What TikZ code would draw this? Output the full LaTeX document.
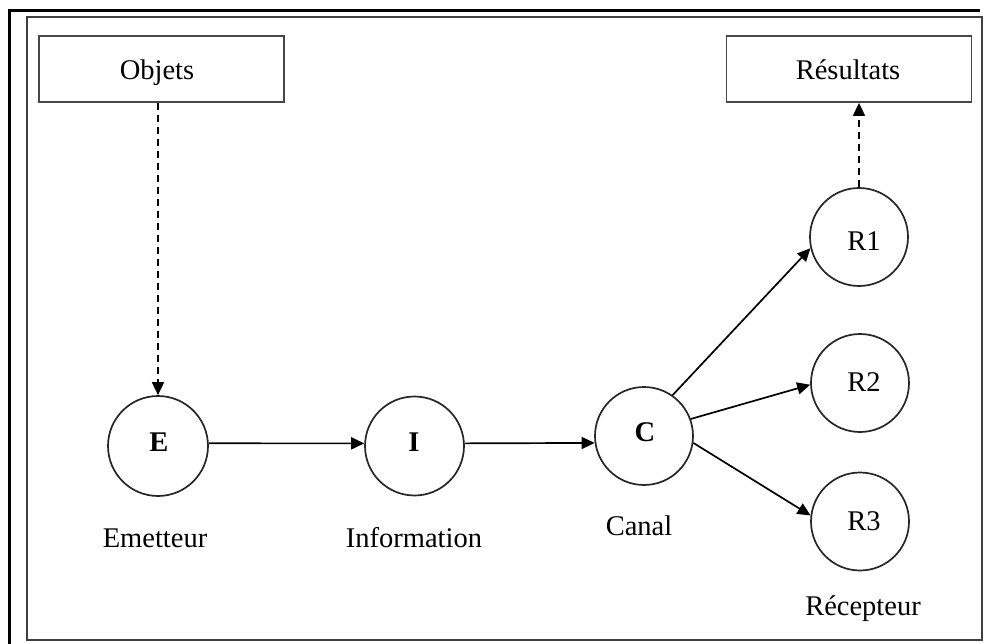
\documentclass[tikz,border=0pt]{standalone}
\usepackage{fontspec}
\setmainfont{Liberation Serif}
\usetikzlibrary{arrows.meta}
\begin{document}
\begin{tikzpicture}[x=1pt,y=-1pt,
  lbl/.style={font=\fontsize{28.5}{32}\selectfont, inner sep=0pt, anchor=base},
  blbl/.style={lbl, font=\fontsize{28.5}{32}\selectfont\bfseries},
  box/.style={draw=black!72, line width=1.8pt, minimum width=245pt, minimum height=66pt, inner sep=0pt},
  circ/.style={draw=black!85, circle, line width=1.7pt, minimum size=98pt, inner sep=0pt},
  arr/.style={line width=1.7pt, -{Triangle[length=13pt,width=12pt]}},
  dsh/.style={arr, dash pattern=on 7pt off 5pt}
]
\useasboundingbox (0,0) rectangle (985,644);
\fill[white] (0,0) rectangle (985,644);
% frames
\draw[line width=3.5pt, line cap=butt] (9.5,644) -- (9.5,10.5) -- (980,10.5);
\draw[line width=1.6pt, draw=black!75] (27,17) rectangle (982,640);
% boxes
\node[box] (Ob) at (161.5,69) {};
\node[box] (Res) at (849,69) {};
\node[lbl] (tOb) at (157,80) {Objets};
\node[lbl] (tRes) at (848,80) {Résultats};
% circles
\node[circ, minimum size=100pt] (E) at (158,446) {};
\node[circ, minimum size=99pt] (I) at (414.5,446) {};
\node[circ] (C) at (644,436) {};
\node[circ] (R1) at (859,237) {};
\node[circ] (R2) at (860,383) {};
\node[circ] (R3) at (860,521.5) {};
% circle letters
\node[blbl] (tE) at (159,451) {E};
\node[blbl] (tI) at (414,451) {I};
\node[blbl] (tC) at (645,441) {C};
\node[lbl] (tR1) at (864,251) {R1};
\node[lbl] (tR2) at (864,391) {R2};
\node[lbl] (tR3) at (864,530) {R3};
% captions
\node[lbl] (lE) at (155,547) {Emetteur};
\node[lbl] (lI) at (414,547) {Information};
\node[lbl] (lC) at (639,535) {Canal};
\node[lbl] (lR) at (863,615) {Récepteur};
% connectors
\draw[dsh] (Ob.south -| E.north) -- (E.north);
\draw[dsh] (R1.north) -- (R1.north |- Res.south);
\draw[arr] (E.3) -- (I.177);
\draw[arr] (I.3) -- (C.188);
\draw[arr] (C.55) -- (R1.193);
\draw[arr] (C.20) -- (R2.182);
\draw[arr] (C.352) -- (R3.173);
\end{tikzpicture}
\end{document}
